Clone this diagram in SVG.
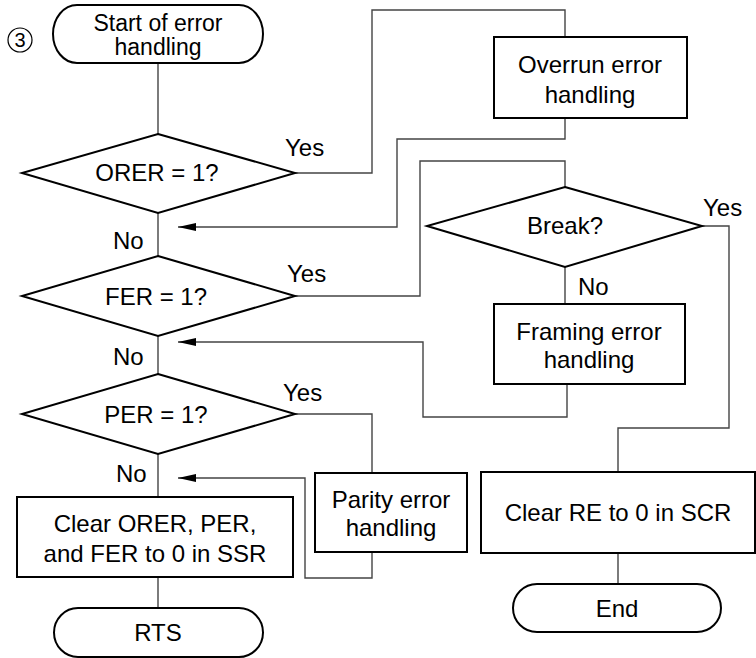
<svg xmlns="http://www.w3.org/2000/svg" width="756" height="658" viewBox="0 0 756 658">
<defs>
<style>
.n{fill:#fff;stroke:#000;stroke-width:2}
.c{fill:none;stroke:#444;stroke-width:1.4}
text{font-family:"Liberation Sans",Arial,sans-serif;font-size:24px;fill:#000}
.m{text-anchor:middle}
</style>
<marker id="ah" viewBox="0 0 18 8" refX="18" refY="4" markerWidth="18" markerHeight="8" markerUnits="userSpaceOnUse" orient="auto">
<path d="M0,0 L18,4 L0,8 Z" fill="#000"/>
</marker>
</defs>
<rect width="756" height="658" fill="#fff"/>
<g id="connectors">
<path class="c" d="M158,63 V134"/>
<path class="c" d="M295,173 H372 V10 H565 V37"/>
<path class="c" d="M565,118 V139 H397 V227 H178" marker-end="url(#ah)"/>
<path class="c" d="M158,213 V256"/>
<path class="c" d="M295,296 H420 V161 H565 V187"/>
<path class="c" d="M565,267 V304"/>
<path class="c" d="M567,384 V417 H423 V342 H178" marker-end="url(#ah)"/>
<path class="c" d="M702,226 H729 V428 H618 V472"/>
<path class="c" d="M618,553 V584"/>
<path class="c" d="M158,336 V374"/>
<path class="c" d="M295,414 H372 V473"/>
<path class="c" d="M372,552 V578 H305 V478 H178" marker-end="url(#ah)"/>
<path class="c" d="M158,454 V497"/>
<path class="c" d="M158,577 V608"/>
</g>
<g id="label3">
<circle cx="20" cy="40" r="12" fill="none" stroke="#000" stroke-width="1.2"/>
<text x="20" y="47" class="m" style="font-size:20px">3</text>
</g>
<g id="start">
<rect class="n" x="53" y="5" width="210" height="58" rx="24" ry="29"/>
<text x="158" y="31" class="m" style="font-size:23px">Start of error</text>
<text x="158" y="55" class="m" style="font-size:23px">handling</text>
</g>
<g id="orer">
<polygon class="n" points="158,134 295,173 158,213 22,173"/>
<text x="157" y="181" class="m">ORER = 1?</text>
<text x="285" y="156">Yes</text>
<text x="113" y="249">No</text>
</g>
<g id="overrun">
<rect class="n" x="494" y="37" width="193" height="81"/>
<text x="590" y="73" class="m">Overrun error</text>
<text x="590" y="103" class="m">handling</text>
</g>
<g id="fer">
<polygon class="n" points="158,256 295,296 158,336 22,296"/>
<text x="156" y="305" class="m">FER = 1?</text>
<text x="287" y="282">Yes</text>
<text x="113" y="365">No</text>
</g>
<g id="break">
<polygon class="n" points="565,187 702,226 565,267 427,226"/>
<text x="565" y="234" class="m">Break?</text>
<text x="703" y="216">Yes</text>
<text x="578" y="295">No</text>
</g>
<g id="framing">
<rect class="n" x="494" y="304" width="191" height="80"/>
<text x="589" y="340" class="m">Framing error</text>
<text x="589" y="368" class="m">handling</text>
</g>
<g id="per">
<polygon class="n" points="158,374 295,414 158,454 22,414"/>
<text x="156" y="423" class="m">PER = 1?</text>
<text x="283" y="401">Yes</text>
<text x="116" y="482">No</text>
</g>
<g id="parity">
<rect class="n" x="315" y="473" width="152" height="79"/>
<text x="391" y="508" class="m">Parity error</text>
<text x="391" y="536" class="m">handling</text>
</g>
<g id="clear-ssr">
<rect class="n" x="17" y="497" width="276" height="80"/>
<text x="155" y="532" class="m">Clear ORER, PER,</text>
<text x="155" y="562" class="m">and FER to 0 in SSR</text>
</g>
<g id="rts">
<rect class="n" x="54" y="608" width="209" height="49" rx="24" ry="24.5"/>
<text x="158" y="641" class="m">RTS</text>
</g>
<g id="clear-scr">
<rect class="n" x="481" y="472" width="274" height="81"/>
<text x="618" y="521" class="m">Clear RE to 0 in SCR</text>
</g>
<g id="end">
<rect class="n" x="513" y="584" width="208" height="48" rx="24" ry="24"/>
<text x="617" y="617" class="m">End</text>
</g>
</svg>
